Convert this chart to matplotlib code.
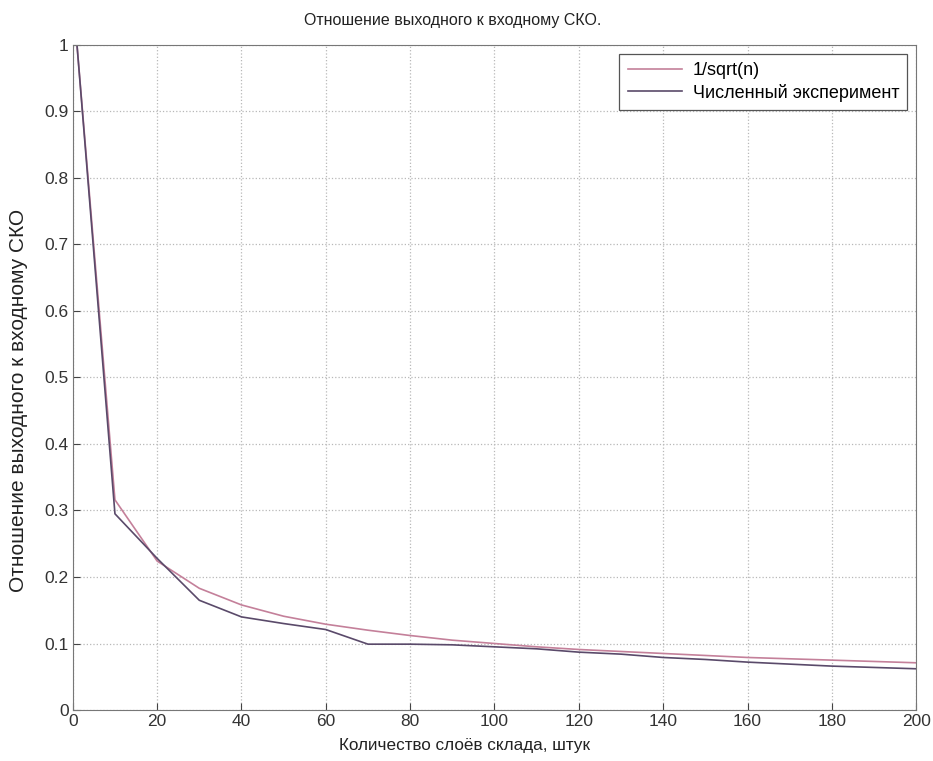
import matplotlib
matplotlib.use("Agg")
import matplotlib.pyplot as plt

plt.rcParams['font.family'] = ['Liberation Sans', 'DejaVu Sans']

# number of layers
n = [1, 10, 20, 30, 40, 50, 60, 70, 80, 90, 100,
     110, 120, 130, 140, 150, 160, 170, 180, 190, 200]
# 1/sqrt(n) reference curve
theory = [1.0, 0.316, 0.224, 0.183, 0.158, 0.141, 0.129, 0.120, 0.112, 0.105, 0.100,
          0.095, 0.091, 0.088, 0.085, 0.082, 0.079, 0.077, 0.075, 0.073, 0.071]
# numerical experiment
experiment = [1.0, 0.295, 0.228, 0.165, 0.140, 0.130, 0.121, 0.099, 0.099, 0.098, 0.095,
              0.092, 0.087, 0.084, 0.079, 0.076, 0.072, 0.069, 0.066, 0.064, 0.062]

xticks = [0, 20, 40, 60, 80, 100, 120, 140, 160, 180, 200]
yticks = [0, 0.1, 0.2, 0.3, 0.4, 0.5, 0.6, 0.7, 0.8, 0.9, 1]

fig = plt.figure(figsize=(9.33, 7.61), dpi=100)
ax = fig.add_axes([0.078, 0.067, 0.904, 0.874])

ax.plot(n, theory, color='#c4809a', linewidth=1.2, label='1/sqrt(n)')
ax.plot(n, experiment, color='#5a4a6a', linewidth=1.2, label='Численный эксперимент')

ax.set_xlim(0, 200)
ax.set_ylim(0, 1)
ax.set_xticks(xticks)
ax.set_yticks(yticks)
ax.set_yticklabels([('%g' % v) for v in yticks])
ax.grid(True, linestyle=':', color='#b8b8b8', linewidth=0.9)
ax.tick_params(direction='in', length=5, labelsize=12.5, colors='#444444', labelcolor='#333333', pad=3)
for sp in ax.spines.values():
    sp.set_color('#777777')

ax.set_title('Отношение выходного к входному СКО.', fontsize=11.5, color='#222222', x=0.451, pad=14)
ax.set_xlabel('Количество слоёв склада, штук', fontsize=12.3, color='#222222')
ax.xaxis.set_label_coords(0.464, -0.042)
ax.set_ylabel('Отношение выходного к входному СКО', fontsize=15, color='#222222')
ax.yaxis.set_label_coords(-0.053, 0.465)

leg = ax.legend(loc='upper right', bbox_to_anchor=(1.0, 1.0), fontsize=13,
                handlelength=3.0, fancybox=False, framealpha=1, borderpad=0.45,
                labelspacing=0.25, handletextpad=0.6)
leg.get_frame().set_edgecolor('#555555')
leg.get_frame().set_linewidth(0.9)

fig.savefig('out.png', dpi=100)
